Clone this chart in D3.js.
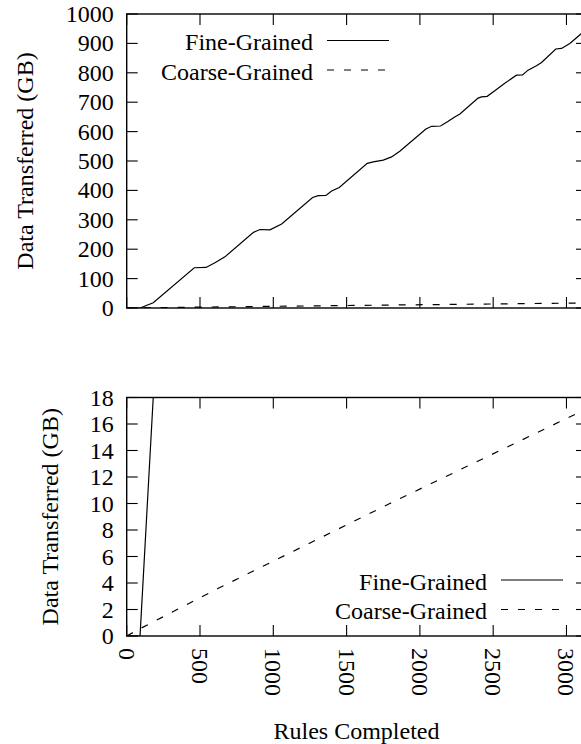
<!DOCTYPE html>
<html>
<head>
<meta charset="utf-8">
<script src="https://cdn.jsdelivr.net/npm/d3@7"></script>
<style>
  html, body { margin: 0; padding: 0; background: #fff; }
</style>
</head>
<body>
<svg id="chart" width="581" height="744" font-family="'Liberation Serif', 'Times New Roman', Times, serif" font-size="24"></svg>
<script>
// ---- data ----
const fineX = [0, 91, 181, 461, 541, 602, 670, 863, 909, 977, 1057, 1268, 1307, 1359, 1398, 1450, 1641, 1682, 1750, 1807, 1863, 2041, 2080, 2141, 2193, 2232, 2273, 2397, 2420, 2459, 2511, 2572, 2659, 2700, 2738, 2795, 2830, 2927, 2966, 3023, 3098, 3140];
const fineY = [0, 0, 18, 137, 138, 154, 174, 257, 267, 266, 286, 376, 382, 383, 398, 410, 492, 497, 503, 514, 533, 609, 618, 619, 635, 648, 660, 714, 718, 720, 739, 762, 792, 793, 809, 824, 835, 881, 883, 900, 932, 950];
const coarseX = [0, 91, 625, 1795, 3091, 3140];
const coarseY = [0, 0.55, 3.6, 10.0, 16.9, 17.2];
const xTicks = [0, 500, 1000, 1500, 2000, 2500, 3000];
const topYTicks = [0, 100, 200, 300, 400, 500, 600, 700, 800, 900, 1000];
const botYTicks = [0, 2, 4, 6, 8, 10, 12, 14, 16, 18];
const seriesNames = ["Fine-Grained", "Coarse-Grained"];

const fine = fineX.map((x, i) => ({x, y: fineY[i]}));
const coarse = coarseX.map((x, i) => ({x, y: coarseY[i]}));

const svg = d3.select("#chart");
const left = 126.7, right = 587;
const x = d3.scaleLinear().domain([0, 3140]).range([left, right]);
const TICK = 11;
const DASH = "7,10";

function panel(id, yDomain, yRange, yTicks, legendPos, labelX) {
  const y = d3.scaleLinear().domain(yDomain).range(yRange);
  const g = svg.append("g");
  const top = yRange[1], bot = yRange[0];

  g.append("clipPath").attr("id", id).append("rect")
    .attr("x", left).attr("y", top).attr("width", right - left).attr("height", bot - top);

  yTicks.forEach(t => {
    g.append("line").attr("x1", left).attr("x2", left + TICK).attr("y1", y(t)).attr("y2", y(t))
      .attr("stroke", "#000").attr("stroke-width", 1.1);
    g.append("line").attr("x1", right).attr("x2", right - TICK).attr("y1", y(t)).attr("y2", y(t))
      .attr("stroke", "#000").attr("stroke-width", 1.1);
    g.append("text").attr("x", left - 13).attr("y", y(t)).attr("text-anchor", "end")
      .attr("dominant-baseline", "central").text(d3.format("d")(t));
  });
  xTicks.forEach(t => {
    g.append("line").attr("x1", x(t)).attr("x2", x(t)).attr("y1", bot).attr("y2", bot - TICK)
      .attr("stroke", "#000").attr("stroke-width", 1.1);
    g.append("line").attr("x1", x(t)).attr("x2", x(t)).attr("y1", top).attr("y2", top + TICK)
      .attr("stroke", "#000").attr("stroke-width", 1.1);
  });

  const line = d3.line().x(d => x(d.x)).y(d => y(d.y));
  const lg = g.append("g").attr("clip-path", `url(#${id})`);
  lg.append("path").datum(fine).attr("d", line).attr("fill", "none")
    .attr("stroke", "#000").attr("stroke-width", 1.2);
  lg.append("path").datum(coarse).attr("d", line).attr("fill", "none")
    .attr("stroke", "#000").attr("stroke-width", 1.2).attr("stroke-dasharray", DASH);

  g.append("rect").attr("x", left).attr("y", top).attr("width", right - left).attr("height", bot - top)
    .attr("fill", "none").attr("stroke", "#000").attr("stroke-width", 1.4);

  seriesNames.forEach((name, i) => {
    const ly = legendPos.y + i * legendPos.dy;
    g.append("text").attr("x", legendPos.textX).attr("y", ly).attr("text-anchor", "end")
      .attr("dominant-baseline", "central").text(name);
    const l = g.append("line").attr("x1", legendPos.lx1).attr("x2", legendPos.lx2)
      .attr("y1", ly - 1.5).attr("y2", ly - 1.5).attr("stroke", "#000").attr("stroke-width", 1.2);
    if (i === 1) l.attr("stroke-dasharray", DASH);
  });

  g.append("text").attr("transform", `translate(${labelX},${(top + bot) / 2}) rotate(-90)`)
    .attr("text-anchor", "middle").attr("dominant-baseline", "central").text("Data Transferred (GB)");
  return y;
}

panel("clipTop", [0, 1000], [308, 14], topYTicks,
  {y: 42, dy: 29.5, textX: 313, lx1: 327, lx2: 389}, 25);
panel("clipBot", [0, 18], [636, 397.5], botYTicks,
  {y: 581.5, dy: 29.5, textX: 487, lx1: 501, lx2: 563}, 50);

xTicks.forEach(t => {
  svg.append("text").attr("transform", `translate(${x(t)},${648}) rotate(90)`)
    .attr("text-anchor", "start").attr("dominant-baseline", "central").text(t);
});
svg.append("text").attr("x", 356.5).attr("y", 739).attr("text-anchor", "middle").text("Rules Completed");
</script>
</body>
</html>
